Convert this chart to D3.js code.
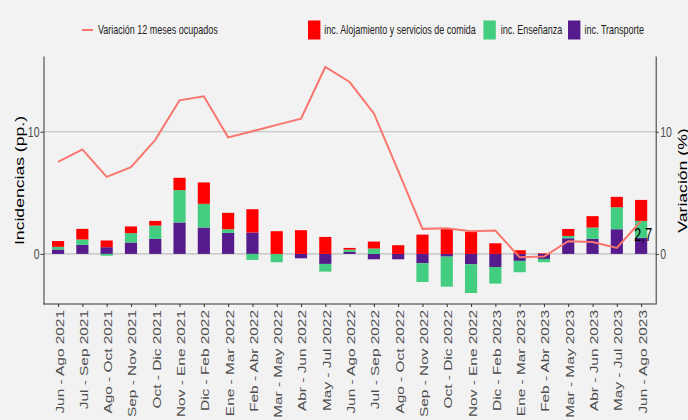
<!DOCTYPE html>
<html><head><meta charset="utf-8">
<script src="https://cdn.jsdelivr.net/npm/d3@7"></script>
<style>body{margin:0;background:#F2F2F2;} svg{display:block}</style>
</head><body><svg id="c" width="688" height="420"></svg>
<script>
const categories = ["Jun - Ago 2021","Jul - Sep 2021","Ago - Oct 2021","Sep - Nov 2021","Oct - Dic 2021","Nov - Ene 2021","Dic - Feb 2022","Ene - Mar 2022","Feb - Abr 2022","Mar - May 2022","Abr - Jun 2022","May - Jul 2022","Jun - Ago 2022","Jul - Sep 2022","Ago - Oct 2022","Sep - Nov 2022","Oct - Dic 2022","Nov - Ene 2022","Dic - Feb 2023","Ene - Mar 2023","Feb - Abr 2023","Mar - May 2023","Abr - Jun 2023","May - Jul 2023","Jun - Ago 2023"];
const transporte  = [0.36,0.74,0.55,0.93,1.23,2.57,2.16,1.72,1.75,0,-0.36,-0.82,0.16,-0.44,-0.44,-0.77,-0.22,-0.85,-1.07,-0.57,-0.41,1.28,1.23,2.02,1.31];
const ensenanza   = [0.22,0.44,-0.15,0.77,1.09,2.65,1.94,0.30,-0.49,-0.68,0,-0.63,0.19,0.44,0,-1.53,-2.46,-2.35,-1.36,-0.93,-0.27,0.19,0.93,1.80,1.39];
const alojamiento = [0.47,0.87,0.55,0.55,0.38,1.01,1.75,1.34,1.91,1.86,1.94,1.39,0.14,0.57,0.71,1.58,2.10,1.80,0.87,0.30,0.05,0.57,0.93,0.85,1.72];
const variacion   = [7.54,8.55,6.31,7.1,9.34,12.57,12.9,9.54,10.04,10.56,11.07,15.3,14.07,11.5,6.8,2.05,2.1,1.86,1.91,-0.27,-0.22,1.04,0.98,0.49,2.7];
const yTicks = [0,10];
const seriesKeys = ["transporte","ensenanza","alojamiento"];
const seriesNames = {alojamiento:"inc. Alojamiento y servicios de comida", ensenanza:"inc. Enseñanza", transporte:"inc. Transporte"};
const lineName = "Variación 12 meses ocupados";
const yTitleLeft = "Incidencias (pp.)";
const yTitleRight = "Variación (%)";

const colors = {alojamiento:"#FF0000", ensenanza:"#43CD80", transporte:"#551A8B"};
const lineColor = "#F8766D";
const FONT = '"Liberation Sans", Arial, sans-serif';
const SX = 0.75;
const W=688,H=420;
const m = {left:43.5,right:655.7,top:56,bottom:304};
const svg=d3.select('#c');
svg.append('rect').attr('width',W).attr('height',H).attr('fill','#F2F2F2');

const x=d3.scalePoint().domain(categories).range([m.left,m.right]).padding(0.6);
const y=d3.scaleLinear().domain([-4.1,16.2]).range([m.bottom,m.top]);

// grid
svg.append('g').selectAll('line').data(yTicks).join('line')
  .attr('x1',m.left).attr('x2',m.right).attr('y1',d=>y(d)).attr('y2',d=>y(d))
  .attr('stroke','#BEBEBE').attr('stroke-width',1.2);

// bars
const rows = categories.map((c,i)=>({cat:c, transporte:transporte[i], ensenanza:ensenanza[i], alojamiento:alojamiento[i]}));
const stacked = d3.stack().keys(seriesKeys).offset(d3.stackOffsetDiverging)(rows);
const bw = x.step()*0.5;
svg.append('g').selectAll('g').data(stacked).join('g').attr('fill',d=>colors[d.key])
  .selectAll('rect').data(d=>d).join('rect')
  .attr('x',d=>x(d.data.cat)-bw/2).attr('width',bw)
  .attr('y',d=>y(Math.max(d[0],d[1])))
  .attr('height',d=>Math.abs(y(d[0])-y(d[1])));

// line
const line = d3.line().x((d,i)=>x(categories[i])).y(d=>y(d));
svg.append('path').datum(variacion).attr('d',line).attr('fill','none')
  .attr('stroke',lineColor).attr('stroke-width',2).attr('stroke-linejoin','miter');

// last label
const fmt = d3.formatLocale({decimal:",",thousands:".",grouping:[3],currency:["","€"]}).format(".1f");
const li = variacion.length-1;
svg.append('text')
  .attr('transform',`translate(${x(categories[li])+2},${y(variacion[li])+20.5}) scale(0.72,1)`)
  .attr('text-anchor','middle').style('font-family',FONT).style('font-size','18px').attr('fill','#000')
  .text(fmt(variacion[li]));

function styleAxis(g){
  g.attr('font-family',null).attr('font-size',null);
  g.select('.domain').attr('stroke','#333').attr('stroke-width',1);
  g.selectAll('.tick line').attr('stroke','#333');
  g.selectAll('text').style('font-family',FONT).attr('fill','#4D4D4D');
}
// left axis
const gl = svg.append('g').attr('transform',`translate(${m.left},0)`)
  .call(d3.axisLeft(y).tickValues(yTicks).tickSize(3).tickSizeOuter(0).tickFormat(d3.format('d')));
styleAxis(gl);
gl.selectAll('text').attr('x',0).attr('dy','0.36em').style('font-size','14px')
  .attr('transform',`translate(-4,0) scale(${SX},1)`);
// right axis
const gr = svg.append('g').attr('transform',`translate(${m.right},0)`)
  .call(d3.axisRight(y).tickValues(yTicks).tickSize(3).tickSizeOuter(0).tickFormat(d3.format('d')));
styleAxis(gr);
gr.selectAll('text').attr('x',0).attr('dy','0.36em').style('font-size','14px')
  .attr('transform',`translate(4.5,0) scale(${SX},1)`);
// bottom axis
const gb = svg.append('g').attr('transform',`translate(0,${m.bottom})`)
  .call(d3.axisBottom(x).tickSize(3).tickSizeOuter(0));
styleAxis(gb);
gb.select('.domain').attr('d',`M${m.left},0H${m.right}`);
gb.selectAll('text').attr('x',0).attr('y',0).attr('dy','0.36em').attr('text-anchor','end')
  .style('font-size','15.4px')
  .attr('transform',`translate(0.8,6) rotate(-90) scale(1,${SX})`);

// titles
svg.append('text').attr('transform',`translate(19,180.5) rotate(-90) scale(1,${SX})`)
  .attr('text-anchor','middle').attr('dy','0.35em').style('font-family',FONT).style('font-size','17.6px')
  .attr('fill','#000').text(yTitleLeft);
svg.append('text').attr('transform',`translate(682,180.5) rotate(-90) scale(1,${SX})`)
  .attr('text-anchor','middle').attr('dy','0.35em').style('font-family',FONT).style('font-size','17.6px')
  .attr('fill','#000').text(yTitleRight);

// legend
const lg = svg.append('g');
lg.append('line').attr('x1',82).attr('x2',93).attr('y1',30).attr('y2',30)
  .attr('stroke',lineColor).attr('stroke-width',2);
lg.append('text').attr('transform',`translate(98,34.3) scale(${SX},1)`).style('font-family',FONT)
  .style('font-size','12px').attr('fill','#222').text(lineName);
const legItems = [
  {key:"alojamiento", rx:308, tx:324.3},
  {key:"ensenanza", rx:483.4, tx:500.7},
  {key:"transporte", rx:568, tx:584.6}
];
legItems.forEach(it=>{
  lg.append('rect').attr('x',it.rx).attr('y',20.5).attr('width',12.4).attr('height',19).attr('fill',colors[it.key]);
  lg.append('text').attr('transform',`translate(${it.tx},34.3) scale(${SX},1)`).style('font-family',FONT)
    .style('font-size','12px').attr('fill','#222').text(seriesNames[it.key]);
});
</script>
</body></html>
